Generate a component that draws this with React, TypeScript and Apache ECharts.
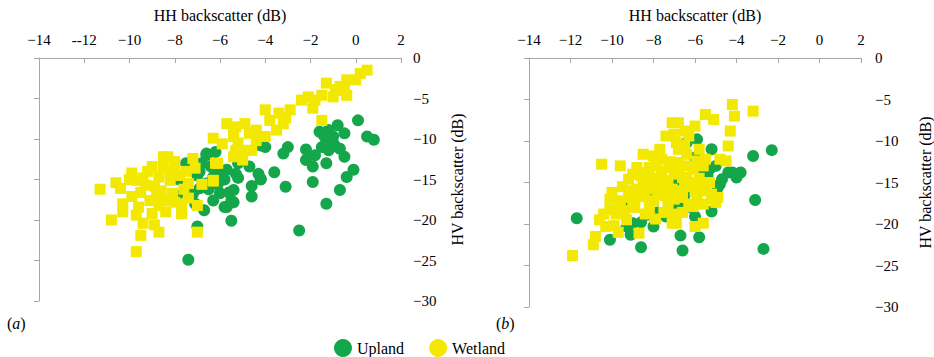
import React, { useEffect, useRef } from "react";
import * as echarts from "echarts";

// [HH backscatter (dB), HV backscatter (dB)]
const uplandA: number[][] = [
  [0.1, -7.7], [0.5, -9.7], [0.8, -10.1], [-0.8, -8.3], [-0.5, -9.3], [-1.2, -8.9], [-1.6, -9.1],
  [-1.3, -10.1], [-1.0, -9.7], [-0.7, -11.2], [-1.2, -11.4], [-1.5, -11.0], [-1.8, -12.0], [-0.5, -12.2],
  [-1.3, -13.0], [-0.1, -13.8], [-0.4, -14.7], [-0.7, -16.3], [-1.3, -18.0], [-1.9, -15.3], [-1.9, -13.4],
  [-2.2, -12.6], [-2.2, -11.3], [-3.0, -11.0], [-3.2, -11.8], [-3.1, -15.9], [-3.6, -14.1], [-4.2, -14.9],
  [-4.3, -14.3], [-4.6, -15.8], [-4.6, -17.1], [-4.2, -10.8], [-5.4, -16.3], [-5.4, -17.8], [-5.5, -20.1],
  [-2.5, -21.3], [-4.7, -13.4], [-5.3, -14.3], [-5.2, -13.0], [-7.4, -24.9], [-7.0, -20.8], [-4.2, -15.0],
  [-5.5, -17.6], [-5.7, -18.4], [-6.0, -16.7], [-6.3, -17.6], [-6.7, -18.8], [-6.9, -16.1], [-6.6, -15.5],
  [-6.3, -14.7], [-5.7, -13.8], [-5.2, -14.8], [-6.8, -13.0], [-6.6, -11.8], [-6.2, -11.6], [-7.1, -18.0],
  [-7.5, -13.0], [-7.5, -15.9], [-6.6, -12.0], [-5.8, -18.4], [-6.0, -14.0], [-5.8, -15.0], [-7.0, -14.5],
  [-4.0, -11.0], [-1.0, -10.5], [-6.4, -13.4], [-6.9, -14.0], [-7.2, -16.8], [-6.1, -15.6], [-5.6, -16.6],
  [-6.5, -16.2], [-7.8, -15.0], [-7.9, -17.0], [-1.4, -9.6], [-0.9, -10.9],
];

const wetlandA: number[][] = [
  [-11.3, -16.2], [-10.4, -16.1], [-9.9, -14.2], [-10.8, -20.0], [-10.3, -18.0], [-10.3, -19.0], [-9.7, -19.4],
  [-9.4, -20.4], [-8.9, -20.6], [-8.7, -21.5], [-9.5, -21.9], [-9.7, -23.9], [-9.9, -17.1], [-9.7, -15.1],
  [-9.3, -15.7], [-9.0, -13.4], [-8.5, -12.2], [-8.0, -12.8], [-8.7, -14.7], [-8.2, -15.1], [-7.8, -14.5],
  [-8.8, -17.1], [-8.4, -17.6], [-8.7, -18.2], [-8.1, -16.7], [-7.7, -18.0], [-7.7, -19.2], [-7.4, -17.3],
  [-7.0, -18.2], [-7.2, -12.4], [-7.1, -13.6], [-7.4, -15.5], [-7.0, -21.5], [-6.3, -15.1], [-6.1, -13.0],
  [-5.7, -8.1], [-6.3, -9.9], [-5.4, -9.3], [-5.3, -11.4], [0.2, -1.9], [0.0, -2.7], [-0.4, -2.7],
  [-0.5, -4.0], [-0.7, -3.5], [-1.3, -3.1], [-1.0, -4.8], [-0.4, -4.6], [-1.5, -4.6], [-1.8, -5.2],
  [-2.1, -4.8], [-2.4, -5.2], [-1.9, -6.2], [-1.5, -7.7], [-2.9, -6.4], [-3.4, -6.8], [-4.0, -6.4],
  [-3.2, -8.1], [-3.5, -8.9], [-4.0, -9.7], [-3.8, -7.7], [-4.4, -8.9], [-4.9, -8.1], [-4.7, -9.3],
  [-5.3, -8.5], [-5.4, -9.7], [-5.2, -10.5], [-4.6, -11.4], [-5.3, -11.8], [-5.0, -12.6], [-5.4, -12.2],
  [-4.9, -11.4], [-8.3, -12.2], [-9.2, -14.0], [-8.5, -13.5], [-8.9, -15.8], [-8.0, -14.0], [-7.6, -16.2],
  [-9.5, -16.6], [-10.0, -15.0], [-6.8, -15.6], [-6.3, -15.2], [-6.2, -13.0], [-9.4, -14.8], [-8.6, -16.4],
  [-8.2, -14.2], [-9.1, -17.6], [-8.0, -17.8], [-7.5, -14.0], [-9.6, -18.4], [-10.6, -15.4], [-8.4, -19.0],
  [-9.0, -19.2], [-5.9, -10.6], [-4.4, -10.2], [-3.1, -7.4], [-0.9, -3.9], [0.5, -1.5],
];

const uplandB: number[][] = [
  [-11.7, -19.3], [-10.1, -21.9], [-9.1, -21.3], [-8.6, -22.8], [-8.0, -20.3], [-9.0, -19.9], [-9.3, -17.3],
  [-8.3, -18.9], [-7.4, -19.1], [-7.2, -17.7], [-6.6, -23.2], [-6.7, -21.4], [-5.8, -21.6], [-2.7, -23.0],
  [-3.1, -17.1], [-3.2, -11.8], [-2.3, -11.1], [-3.8, -13.8], [-4.2, -13.8], [-4.7, -14.6], [-4.9, -15.6],
  [-5.2, -18.5], [-5.6, -13.4], [-6.6, -17.4], [-7.2, -18.3], [-9.3, -20.3], [-5.2, -11.0], [-4.4, -13.8],
  [-4.8, -15.2], [-5.3, -13.4], [-6.0, -19.1], [-6.9, -18.3], [-6.0, -12.0], [-5.4, -14.2], [-6.5, -16.5],
  [-8.0, -16.0], [-7.0, -15.0], [-5.0, -16.5], [-6.4, -10.2], [-5.9, -9.8], [-4.0, -14.4], [-5.0, -13.0],
  [-5.7, -14.8], [-6.2, -18.0], [-7.8, -18.6], [-8.6, -19.8],
];

const wetlandB: number[][] = [
  [-10.5, -12.8], [-9.6, -13.0], [-8.5, -11.6], [-7.4, -9.4], [-7.1, -7.8], [-7.7, -11.0], [-9.2, -14.6],
  [-8.4, -13.8], [-7.9, -13.0], [-8.8, -15.8], [-10.1, -17.0], [-10.1, -18.3], [-9.7, -17.9], [-10.6, -19.5],
  [-10.3, -20.3], [-10.8, -21.5], [-10.9, -22.5], [-11.9, -23.8], [-8.7, -21.1], [-9.3, -19.5], [-8.2, -18.3],
  [-7.1, -19.9], [-7.6, -16.2], [-8.5, -16.7], [-4.2, -5.6], [-3.2, -6.4], [-4.1, -7.0], [-5.5, -6.8],
  [-5.1, -7.4], [-6.8, -7.8], [-4.3, -8.8], [-4.4, -10.6], [-6.0, -8.2], [-6.3, -9.4], [-5.5, -12.2],
  [-4.8, -12.2], [-4.5, -12.4], [-5.1, -17.0], [-5.0, -17.4], [-5.6, -19.9], [-6.0, -20.3], [-6.9, -19.9],
  [-7.1, -15.8], [-6.4, -14.6], [-6.1, -13.4], [-6.8, -12.6], [-6.1, -17.9], [-8.0, -14.5], [-7.5, -15.0],
  [-7.0, -14.0], [-6.5, -15.5], [-7.8, -16.5], [-8.5, -15.0], [-9.0, -16.0], [-6.0, -16.0], [-7.2, -12.5],
  [-6.8, -11.0], [-5.8, -14.5], [-5.5, -16.0], [-8.2, -17.5], [-9.5, -15.5], [-10.0, -16.2], [-7.3, -17.8],
  [-6.3, -13.0], [-8.8, -13.2], [-6.5, -10.5], [-5.8, -11.0], [-9.8, -18.8], [-9.0, -17.5], [-9.0, -14.0],
  [-8.6, -14.2], [-8.2, -13.2], [-7.6, -13.6], [-7.2, -13.2], [-6.8, -13.8], [-6.6, -14.4], [-7.3, -14.8],
  [-7.8, -15.4], [-8.3, -15.8], [-8.7, -16.4], [-9.2, -16.8], [-9.6, -17.2], [-8.9, -18.0], [-8.4, -18.8],
  [-7.9, -19.4], [-7.5, -18.6], [-7.0, -17.0], [-6.6, -16.8], [-6.3, -17.6], [-5.9, -17.0], [-5.6, -17.6],
  [-6.6, -18.6], [-7.0, -18.8], [-8.0, -17.2], [-7.6, -14.2], [-8.0, -11.8], [-7.6, -12.2], [-6.9, -10.2],
  [-6.4, -11.6], [-5.9, -12.4], [-5.6, -13.0], [-5.3, -15.0], [-5.7, -15.4], [-6.2, -15.0], [-6.8, -16.0],
  [-7.4, -16.6], [-9.4, -18.4], [-10.4, -18.8], [-9.9, -20.2], [-9.7, -21.0], [-5.2, -16.4], [-4.9, -16.8],
  [-7.0, -9.2], [-6.5, -8.8],
];

const seriesNames = ["Upland", "Wetland"];
const xTicksA: Record<number, string> = { [-12]: "--12" };
const panelLabels = ["a", "b"];

const GREEN = "#14a64b";
const YELLOW = "#f3e800";
const AXIS = "#a6a6a6";
const FONT = "'Liberation Serif', 'Times New Roman', serif";

const fmt = (v: number) => (v < 0 ? "\u2212" + Math.abs(v) : String(v));

export default function App() {
  const ref = useRef<HTMLDivElement>(null);
  useEffect(() => {
    document.body.style.margin = "0";
    const chart = echarts.init(ref.current!, null, { renderer: "svg" });
    const grids = [
      { left: 39, top: 58, width: 362, height: 243 },
      { left: 529, top: 58, width: 332, height: 249 },
    ];
    const xAxis = grids.map((_, i) => ({
      gridIndex: i,
      type: "value",
      position: "top",
      min: -14,
      max: 2,
      interval: 2,
      name: "HH backscatter (dB)",
      nameLocation: "middle",
      nameGap: 35,
      nameTextStyle: { fontSize: 16, color: "#000", fontFamily: FONT },
      axisLine: { onZero: false, lineStyle: { color: AXIS } },
      axisTick: { inside: true, length: 5, lineStyle: { color: AXIS } },
      axisLabel: {
        fontSize: 15,
        color: "#000",
        fontFamily: FONT,
        margin: 11,
        formatter: (v: number) => (i === 0 && xTicksA[v] ? xTicksA[v] : fmt(v)),
      },
      splitLine: { show: false },
    }));
    const yAxis: any[] = [];
    grids.forEach((_, i) => {
      yAxis.push({
        gridIndex: i,
        type: "value",
        position: "right",
        min: -30,
        max: 0,
        interval: 5,
        name: "HV backscatter (dB)",
        nameLocation: "middle",
        nameRotate: 90,
        nameMoveOverlap: false,
        nameGap: i === 0 ? 48 : 56,
        nameTextStyle: { fontSize: 16, color: "#000", fontFamily: FONT },
        axisLine: { show: false },
        axisTick: { show: false },
        axisLabel: { fontSize: 15, color: "#000", fontFamily: FONT, margin: i === 0 ? 12 : 14, formatter: fmt },
        splitLine: { show: false },
      });
      yAxis.push({
        gridIndex: i,
        type: "value",
        position: "left",
        min: -30,
        max: 0,
        interval: 5,
        axisLine: { show: true, onZero: true, lineStyle: { color: AXIS } },
        axisTick: { show: true, length: 5, lineStyle: { color: AXIS } },
        axisLabel: { show: false },
        splitLine: { show: false },
      });
    });
    const mk = (name: string, data: number[][], panel: number) => ({
      name,
      type: "scatter",
      xAxisIndex: panel,
      yAxisIndex: panel * 2,
      data,
      symbol: name === "Upland" ? "circle" : "rect",
      symbolSize: name === "Upland" ? 12 : 11,
      itemStyle: { color: name === "Upland" ? GREEN : YELLOW, opacity: 1 },
    });
    chart.setOption({
      animation: false,
      textStyle: { fontFamily: FONT },
      grid: grids,
      xAxis,
      yAxis,
      legend: {
        data: seriesNames.map((n) => ({ name: n, icon: "circle" })),
        left: 329,
        top: 334,
        itemWidth: 18,
        itemHeight: 18,
        itemGap: 25,
        textStyle: { fontSize: 16, color: "#000", fontFamily: FONT },
      },
      graphic: panelLabels.map((p, i) => ({
        type: "text",
        left: i === 0 ? 7 : 496,
        top: 315,
        style: {
          text: "(" + "{i|" + p + "})",
          fontSize: 16,
          fontFamily: FONT,
          fill: "#000",
          rich: { i: { fontStyle: "italic", fontSize: 16, fontFamily: FONT } },
        },
      })),
      series: [
        mk("Upland", uplandA, 0),
        mk("Upland", uplandB, 1),
        mk("Wetland", wetlandA, 0),
        mk("Wetland", wetlandB, 1),
      ],
    });
    return () => chart.dispose();
  }, []);
  return <div ref={ref} style={{ width: 934, height: 357 }} />;
}
